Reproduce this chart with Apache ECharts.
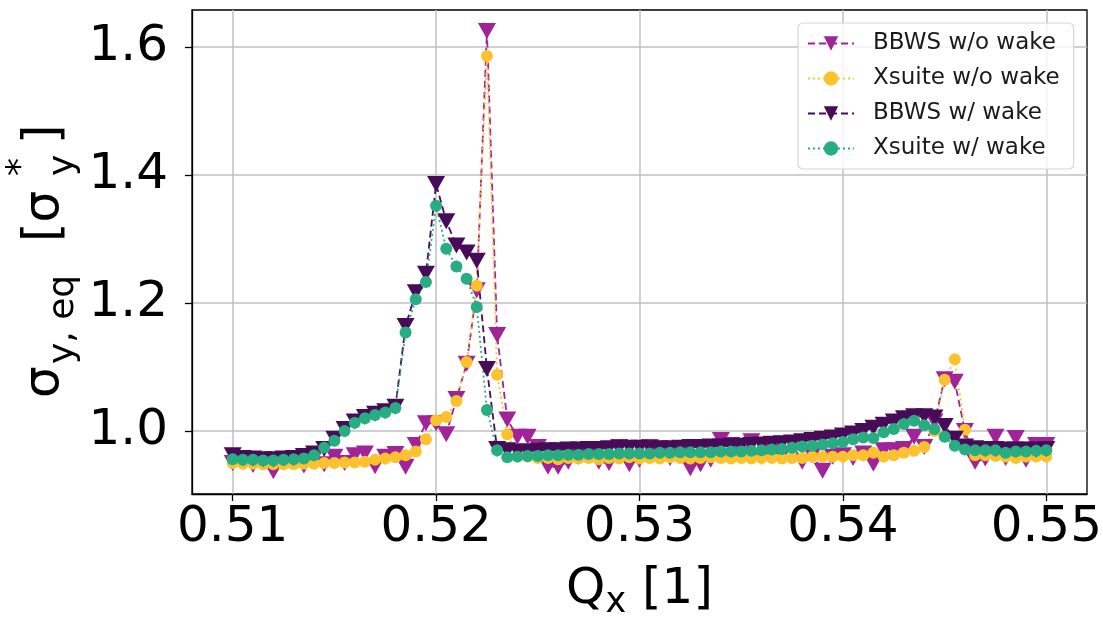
<!DOCTYPE html>
<html>
<head>
<meta charset="utf-8">
<script src="https://cdn.jsdelivr.net/npm/echarts@6/dist/echarts.min.js"></script>
<style>
  html, body { margin: 0; padding: 0; background: #fff; }
  #chart { width: 1103px; height: 619px; }
</style>
</head>
<body>
<div id="chart"></div>
<script>
// Horizontal tune Q_x scanned in steps of 0.0005
const qx = [
  0.5100, 0.5105, 0.5110, 0.5115, 0.5120, 0.5125, 0.5130, 0.5135, 0.5140, 0.5145,
  0.5150, 0.5155, 0.5160, 0.5165, 0.5170, 0.5175, 0.5180, 0.5185, 0.5190, 0.5195,
  0.5200, 0.5205, 0.5210, 0.5215, 0.5220, 0.5225, 0.5230, 0.5235, 0.5240, 0.5245,
  0.5250, 0.5255, 0.5260, 0.5265, 0.5270, 0.5275, 0.5280, 0.5285, 0.5290, 0.5295,
  0.5300, 0.5305, 0.5310, 0.5315, 0.5320, 0.5325, 0.5330, 0.5335, 0.5340, 0.5345,
  0.5350, 0.5355, 0.5360, 0.5365, 0.5370, 0.5375, 0.5380, 0.5385, 0.5390, 0.5395,
  0.5400, 0.5405, 0.5410, 0.5415, 0.5420, 0.5425, 0.5430, 0.5435, 0.5440, 0.5445,
  0.5450, 0.5455, 0.5460, 0.5465, 0.5470, 0.5475, 0.5480, 0.5485, 0.5490, 0.5495,
  0.5500
];

// Equilibrium vertical beam size, in units of sigma_y*
const bbwsNoWake = [
  0.950, 0.955, 0.947, 0.955, 0.937, 0.952, 0.955, 0.946, 0.958, 0.948,
  0.960, 0.950, 0.962, 0.965, 0.945, 0.960, 0.964, 0.944, 0.978, 1.012,
  1.012, 0.995, 1.050, 1.105, 1.220, 1.625, 1.150, 1.018, 0.991, 0.991,
  0.975, 0.944, 0.944, 0.952, 0.960, 0.962, 0.952, 0.950, 0.975, 0.948,
  0.955, 0.975, 0.962, 0.958, 0.962, 0.942, 0.948, 0.955, 0.986, 0.978,
  0.962, 0.984, 0.960, 0.970, 0.962, 0.980, 0.952, 0.962, 0.938, 0.960,
  0.962, 0.958, 0.965, 0.949, 0.970, 0.970, 0.972, 0.991, 0.975, 1.015,
  1.081, 1.077, 1.000, 0.952, 0.957, 0.991, 0.958, 0.989, 0.955, 0.978,
  0.978
];
const xsuiteNoWake = [
  0.950, 0.949, 0.949, 0.948, 0.948, 0.948, 0.948, 0.949, 0.949, 0.950,
  0.950, 0.951, 0.951, 0.952, 0.955, 0.957, 0.959, 0.962, 0.968, 0.987,
  1.017, 1.022, 1.047, 1.108, 1.227, 1.586, 1.088, 0.995, 0.962, 0.960,
  0.958, 0.958, 0.956, 0.958, 0.957, 0.958, 0.956, 0.958, 0.957, 0.959,
  0.957, 0.958, 0.957, 0.959, 0.958, 0.957, 0.958, 0.959, 0.958, 0.957,
  0.958, 0.957, 0.958, 0.958, 0.957, 0.958, 0.958, 0.960, 0.960, 0.960,
  0.960, 0.962, 0.962, 0.966, 0.960, 0.962, 0.966, 0.969, 0.975, 1.000,
  1.080, 1.112, 1.002, 0.962, 0.962, 0.961, 0.960, 0.958, 0.960, 0.960,
  0.960
];
const bbwsWake = [
  0.962, 0.958, 0.957, 0.956, 0.956, 0.957, 0.958, 0.961, 0.965, 0.972,
  0.988, 1.003, 1.015, 1.022, 1.027, 1.031, 1.038, 1.164, 1.217, 1.246,
  1.386, 1.328, 1.290, 1.279, 1.266, 1.097, 0.972, 0.970, 0.968, 0.968,
  0.969, 0.970, 0.970, 0.971, 0.971, 0.972, 0.972, 0.973, 0.974, 0.974,
  0.974, 0.973, 0.973, 0.973, 0.974, 0.975, 0.975, 0.976, 0.976, 0.977,
  0.977, 0.978, 0.979, 0.980, 0.981, 0.982, 0.984, 0.986, 0.988, 0.990,
  0.993, 0.996, 1.000, 1.005, 1.010, 1.015, 1.020, 1.023, 1.023, 1.021,
  1.008, 0.988, 0.976, 0.973, 0.972, 0.972, 0.971, 0.971, 0.971, 0.971,
  0.972
];
const xsuiteWake = [
  0.956, 0.955, 0.955, 0.954, 0.954, 0.955, 0.956, 0.957, 0.962, 0.974,
  0.985, 1.000, 1.013, 1.020, 1.025, 1.029, 1.036, 1.154, 1.206, 1.233,
  1.352, 1.285, 1.257, 1.238, 1.194, 1.033, 0.970, 0.959, 0.960, 0.961,
  0.961, 0.962, 0.962, 0.963, 0.963, 0.964, 0.964, 0.964, 0.965, 0.965,
  0.965, 0.965, 0.966, 0.966, 0.967, 0.967, 0.967, 0.967, 0.968, 0.968,
  0.968, 0.969, 0.970, 0.971, 0.972, 0.974, 0.976, 0.977, 0.979, 0.981,
  0.983, 0.987, 0.990, 0.989, 0.998, 1.003, 1.011, 1.016, 1.009, 1.003,
  0.991, 0.977, 0.971, 0.970, 0.970, 0.970, 0.966, 0.968, 0.968, 0.969,
  0.970
];

const seriesNames = ['BBWS w/o wake', 'Xsuite w/o wake', 'BBWS w/ wake', 'Xsuite w/ wake'];
const xTicks = [0.51, 0.52, 0.53, 0.54, 0.55];
const yTicks = [1.0, 1.2, 1.4, 1.6];

const FONT = 'DejaVu Sans';
const pairs = ys => qx.map((x, i) => [x, ys[i]]);

function lineSeries(name, ys, color, dash, marker) {
  const tri = marker === 'tri';
  return {
    name: name,
    type: 'line',
    data: pairs(ys),
    symbol: tri ? 'triangle' : 'circle',
    symbolRotate: tri ? 180 : 0,
    symbolSize: tri ? [18, 16] : 12,
    showAllSymbol: true,
    itemStyle: { color: color, borderWidth: 0 },
    lineStyle: { color: color, width: 1.8, type: dash },
    emphasis: { disabled: true },
    animation: false,
    z: 2
  };
}

const chart = echarts.init(document.getElementById('chart'), null, { renderer: 'canvas' });

chart.setOption({
  backgroundColor: '#ffffff',
  animation: false,
  grid: {
    left: 192, right: 16, top: 10, bottom: 125,
    outerBoundsMode: 'none',
    containLabel: false,
    show: true, borderColor: '#000', borderWidth: 1.3, backgroundColor: 'transparent'
  },
  xAxis: {
    type: 'value',
    min: 0.508, max: 0.552,
    axisLine: { show: true, lineStyle: { color: '#000', width: 1.3 } },
    axisTick: { show: true, customValues: xTicks, length: 7, inside: false, lineStyle: { color: '#000', width: 1.3 } },
    axisLabel: {
      customValues: xTicks, margin: 9,
      fontFamily: FONT, fontSize: 50, color: '#000',
      formatter: v => v.toFixed(2)
    },
    splitLine: { show: true, lineStyle: { color: '#c0c0c0', width: 1.5 } },
    name: '{a|Q}{s|x}{a| [1]}',
    nameLocation: 'middle',
    nameGap: 66,
    nameTextStyle: {
      rich: {
        a: { fontFamily: FONT, fontSize: 50, color: '#000', lineHeight: 60, verticalAlign: 'middle' },
        s: { fontFamily: FONT, fontSize: 35, color: '#000', lineHeight: 34, verticalAlign: 'bottom' }
      }
    }
  },
  yAxis: {
    type: 'value',
    min: 0.9016, max: 1.658,
    axisLine: { show: true, lineStyle: { color: '#000', width: 1.3 } },
    axisTick: { show: true, customValues: yTicks, length: 7, lineStyle: { color: '#000', width: 1.3 } },
    axisLabel: {
      customValues: yTicks, margin: 24,
      padding: [5, 0, 0, 0],
      fontFamily: FONT, fontSize: 50, color: '#000',
      formatter: v => v.toFixed(1)
    },
    splitLine: { show: true, lineStyle: { color: '#c0c0c0', width: 1.5 } }
  },
  legend: {
    orient: 'vertical',
    left: 798, top: 23,
    padding: [9, 14, 9, 9],
    itemGap: 12,
    itemWidth: 46,
    itemHeight: 18,
    backgroundColor: 'rgba(255,255,255,0.8)',
    borderColor: '#d6d6d6',
    borderWidth: 1.2,
    borderRadius: 5,
    textStyle: { fontFamily: FONT, fontSize: 23, color: '#1a1a1a', padding: [0, 0, 0, 14] },
    data: seriesNames
  },
  series: [
    lineSeries(seriesNames[0], bbwsNoWake, '#a0239a', [7, 4], 'tri'),
    lineSeries(seriesNames[1], xsuiteNoWake, '#fcc22d', [2, 3], 'dot'),
    lineSeries(seriesNames[2], bbwsWake, '#480b57', [7, 4], 'tri'),
    lineSeries(seriesNames[3], xsuiteWake, '#27ad81', [2, 3], 'dot')
  ],
  // Rotated y-axis title: sigma_{y,eq} [sigma_y^*]
  graphic: [{
    type: 'group',
    x: 70, y: 398,
    rotation: Math.PI / 2,
    children: [
      { type: 'text', x: 0, y: 0, style: { text: 'σ', font: '50px "DejaVu Sans"', fill: '#000', textVerticalAlign: 'bottom' } },
      { type: 'text', x: 34, y: 12, style: { text: 'y, eq', font: '36px "DejaVu Sans"', fill: '#000', textVerticalAlign: 'bottom' } },
      { type: 'text', x: 156, y: 0, style: { text: '[σ', font: '50px "DejaVu Sans"', fill: '#000', textVerticalAlign: 'bottom' } },
      { type: 'text', x: 222, y: 12, style: { text: 'y', font: '36px "DejaVu Sans"', fill: '#000', textVerticalAlign: 'bottom' } },
      { type: 'text', x: 222, y: -30, style: { text: '*', font: '36px "DejaVu Sans"', fill: '#000', textVerticalAlign: 'bottom' } },
      { type: 'text', x: 254, y: 0, style: { text: ']', font: '50px "DejaVu Sans"', fill: '#000', textVerticalAlign: 'bottom' } }
    ]
  }]
});
</script>
</body>
</html>
